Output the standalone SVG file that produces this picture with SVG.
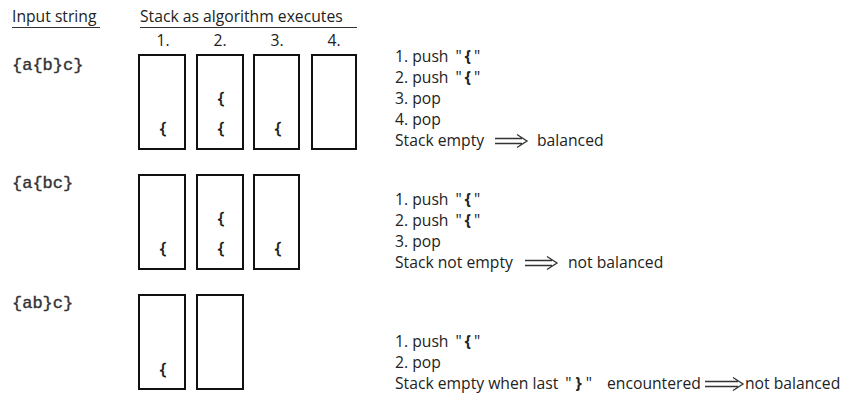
<svg xmlns="http://www.w3.org/2000/svg" width="845" height="394" viewBox="0 0 845 394">
<style>
.t{font-family:"Open Sans","Noto Sans",sans-serif;font-size:15.7px;fill:#222}
.m{font-family:"Liberation Mono","DejaVu Sans Mono",monospace;font-size:17px;fill:#333;stroke:#333;stroke-width:0.4}
.b{font-family:"Open Sans","Noto Sans",sans-serif;font-size:17px;fill:#111;stroke:#111;stroke-width:0.5;text-anchor:middle}
.box{fill:#fff;stroke:#111;stroke-width:2}
.ul{stroke:#333;stroke-width:1.2}
.ar{fill:none;stroke:#333;stroke-width:1.3}
.n{text-anchor:middle}
.bb{font-weight:bold}
</style>
<rect width="845" height="394" fill="#fff"/>
<g id="header">
<text class="t" x="12" y="22">Input string</text>
<line class="ul" x1="12" y1="27.5" x2="100" y2="27.5"/>
<text class="t" x="140" y="22">Stack as algorithm executes</text>
<line class="ul" x1="140" y1="27.5" x2="357" y2="27.5"/>
<text class="t n" x="163" y="46">1.</text>
<text class="t n" x="220" y="46">2.</text>
<text class="t n" x="277" y="46">3.</text>
<text class="t n" x="334" y="46">4.</text>
</g>
<g id="row1">
<text class="m" x="12" y="70">{a{b}c}</text>
<rect class="box" x="139" y="55" width="46" height="94"/>
<rect class="box" x="197" y="55" width="46" height="94"/>
<rect class="box" x="254" y="55" width="45" height="94"/>
<rect class="box" x="312" y="55" width="44" height="94"/>
<text class="b" x="163" y="134">{</text>
<text class="b" x="221" y="104">{</text>
<text class="b" x="221" y="134">{</text>
<text class="b" x="278" y="134">{</text>
<text class="t" x="395" y="62">1. push <tspan dx="3">"</tspan><tspan class="bb" dx="3">{</tspan><tspan dx="3">"</tspan></text>
<text class="t" x="395" y="83">2. push <tspan dx="3">"</tspan><tspan class="bb" dx="3">{</tspan><tspan dx="3">"</tspan></text>
<text class="t" x="395" y="104">3. pop</text>
<text class="t" x="395" y="125">4. pop</text>
<text class="t" x="395" y="146">Stack empty</text>
<path class="ar" d="M495 138.5H522M495 143.5H522M517 134.5L527 141L517 147.5"/>
<text class="t" x="537" y="146">balanced</text>
</g>
<g id="row2">
<text class="m" x="12" y="188">{a{bc}</text>
<rect class="box" x="139" y="175" width="46" height="94"/>
<rect class="box" x="197" y="175" width="46" height="94"/>
<rect class="box" x="254" y="175" width="45" height="94"/>
<text class="b" x="163" y="254">{</text>
<text class="b" x="221" y="224">{</text>
<text class="b" x="221" y="254">{</text>
<text class="b" x="278" y="254">{</text>
<text class="t" x="395" y="205">1. push <tspan dx="3">"</tspan><tspan class="bb" dx="3">{</tspan><tspan dx="3">"</tspan></text>
<text class="t" x="395" y="226">2. push <tspan dx="3">"</tspan><tspan class="bb" dx="3">{</tspan><tspan dx="3">"</tspan></text>
<text class="t" x="395" y="247">3. pop</text>
<text class="t" x="395" y="268">Stack not empty</text>
<path class="ar" d="M525 260.5H552M525 265.5H552M547 256.5L557 263L547 269.5"/>
<text class="t" x="568" y="268">not balanced</text>
</g>
<g id="row3">
<text class="m" x="12" y="308">{ab}c}</text>
<rect class="box" x="139" y="295" width="46" height="94"/>
<rect class="box" x="197" y="295" width="46" height="94"/>
<text class="b" x="163" y="375">{</text>
<text class="t" x="395" y="347">1. push <tspan dx="3">"</tspan><tspan class="bb" dx="3">{</tspan><tspan dx="3">"</tspan></text>
<text class="t" x="395" y="368">2. pop</text>
<text class="t" x="395" y="389">Stack empty when last <tspan dx="3">"</tspan><tspan class="bb" dx="4">}</tspan><tspan dx="4">"</tspan> <tspan x="607">encountered</tspan></text>
<path class="ar" d="M705 381.5H738M705 386.5H738M733 377.5L743 384L733 390.5"/>
<text class="t" x="745" y="389">not balanced</text>
</g>
<g id="connectors"></g>
</svg>
